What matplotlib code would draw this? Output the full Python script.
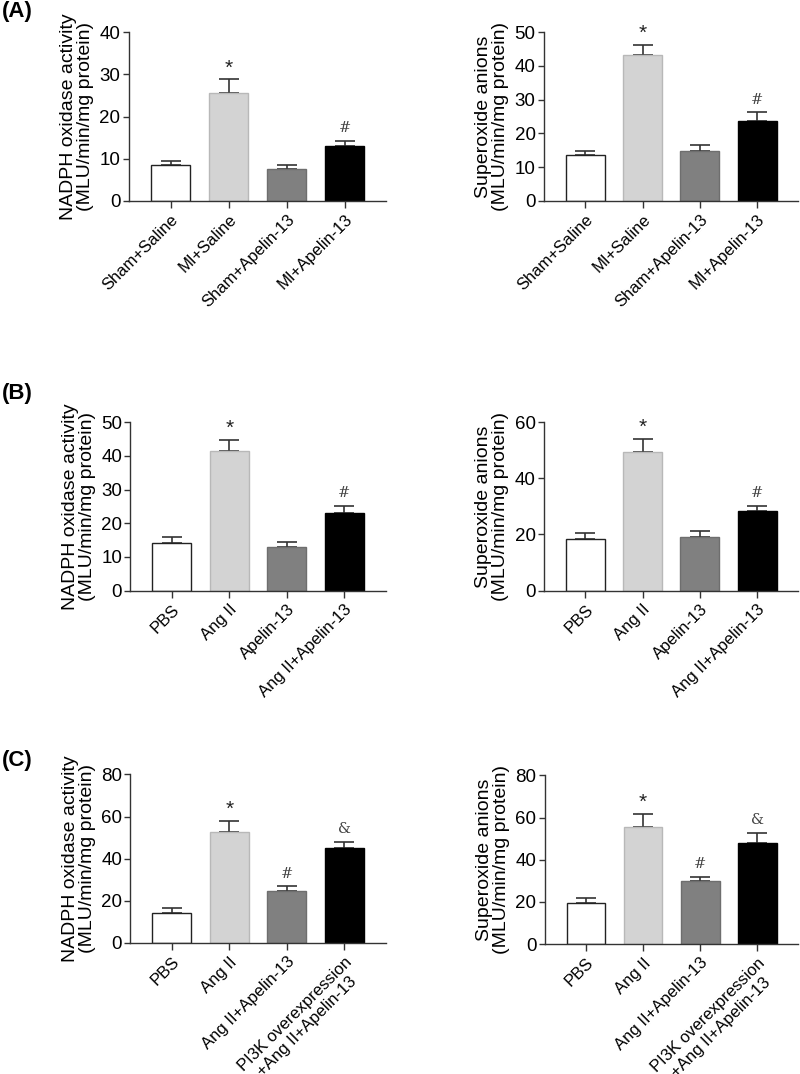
import numpy as np
import matplotlib
matplotlib.use("Agg")
import matplotlib.pyplot as plt

plt.rcParams['font.family'] = ['Liberation Sans', 'DejaVu Sans']

# --- data ---
labels_a = ['Sham+Saline', 'MI+Saline', 'Sham+Apelin-13', 'MI+Apelin-13']
labels_b = ['PBS', 'Ang II', 'Apelin-13', 'Ang II+Apelin-13']
labels_c = ['PBS', 'Ang II', 'Ang II+Apelin-13', 'PI3K overexpression\n+Ang II+Apelin-13']

nox_a = [8.5, 25.6, 7.6, 13.1]
nox_a_err = [1.0, 3.2, 0.8, 1.2]
sup_a = [13.5, 43.1, 14.7, 23.6]
sup_a_err = [1.4, 3.2, 1.9, 2.6]

nox_b = [14.2, 41.4, 13.0, 23.1]
nox_b_err = [1.7, 3.3, 1.4, 2.0]
sup_b = [18.3, 49.2, 19.1, 28.2]
sup_b_err = [2.3, 4.9, 2.1, 2.0]

nox_c = [14.3, 52.6, 24.7, 45.0]
nox_c_err = [2.1, 5.2, 2.1, 2.9]
sup_c = [19.3, 55.7, 30.0, 48.1]
sup_c_err = [2.6, 6.0, 2.0, 4.6]

marks_a = ['', '*', '', '#']
marks_b = ['', '*', '', '#']
marks_c = ['', '*', '#', '&']

face_cols = ['white', '#d3d3d3', '#808080', 'black']
edge_cols = ['#222222', '#b8b8b8', '#6e6e6e', 'black']

NOX_LABEL = 'NADPH oxidase activity\n(MLU/min/mg protein)'
SUP_LABEL = 'Superoxide anions\n(MLU/min/mg protein)'

fig = plt.figure(figsize=(8, 10.74), dpi=100)


def bar_panel(rect, vals, errs, labels, marks, ylabel, ymax, ystep, ec='#333333'):
    ax = fig.add_axes(rect)
    x = np.arange(len(vals))
    ax.bar(x, vals, width=0.68, color=face_cols, edgecolor=edge_cols, linewidth=1.0, zorder=2)
    # only the upper half of the error bar is shown
    ax.errorbar(x, vals, yerr=[np.zeros(len(vals)), errs], fmt='none', ecolor=ec,
                elinewidth=1.2, capsize=7.2, capthick=1.2, zorder=1)
    for xi, v, e, m in zip(x, vals, errs, marks):
        if m == '*':
            ax.text(xi, v + e + ymax * 0.012, m, ha='center', va='bottom', fontsize=15,
                    color='#222222')
        elif m:
            ax.text(xi, v + e + ymax * 0.035, m, ha='center', va='bottom', fontsize=10.5,
                    family='DejaVu Serif', color='#444444')
    ax.set_xlim(-0.72, 3.72)
    ax.set_ylim(0, ymax)
    ax.set_yticks(np.arange(0, ymax + 0.1, ystep))
    ax.set_xticks(x)
    ax.set_xticklabels(labels, rotation=45, ha='right', rotation_mode='anchor',
                       fontsize=12, multialignment='center')
    ax.tick_params(axis='y', labelsize=13.5, length=4, width=1, color='#333333', pad=2)
    ax.tick_params(axis='x', length=5, width=1, color='#333333', pad=3)
    ax.set_ylabel(ylabel, fontsize=14, labelpad=4, linespacing=1.0)
    for s in ['top', 'right']:
        ax.spines[s].set_visible(False)
    for s in ['left', 'bottom']:
        ax.spines[s].set_color('#333333')
        ax.spines[s].set_linewidth(1.0)
    return ax


h = 0.157
bar_panel([0.161, 0.813, 0.322, h], nox_a, nox_a_err, labels_a, marks_a, NOX_LABEL, 40, 10)
bar_panel([0.680, 0.813, 0.318, h], sup_a, sup_a_err, labels_a, marks_a, SUP_LABEL, 50, 10)
bar_panel([0.163, 0.450, 0.319, h], nox_b, nox_b_err, labels_b, marks_b, NOX_LABEL, 50, 10)
bar_panel([0.680, 0.450, 0.318, h], sup_b, sup_b_err, labels_b, marks_b, SUP_LABEL, 60, 20)
bar_panel([0.163, 0.122, 0.319, h], nox_c, nox_c_err, labels_c, marks_c, NOX_LABEL, 80, 20)
bar_panel([0.681, 0.121, 0.317, h], sup_c, sup_c_err, labels_c, marks_c, SUP_LABEL, 80, 20)

for lab, yy in [('(A)', 0.989), ('(B)', 0.634), ('(C)', 0.292)]:
    fig.text(0.002, yy, lab, fontsize=16, fontweight='bold', va='center', ha='left')

fig.savefig('out.png', dpi=100, facecolor='white')
